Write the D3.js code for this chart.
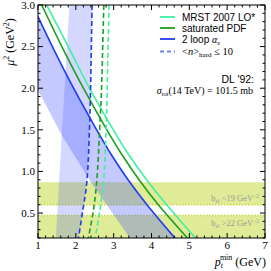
<!DOCTYPE html>
<html>
<head>
<meta charset="utf-8">
<script src="https://cdn.jsdelivr.net/npm/d3@7"></script>
<style>
  body { margin: 0; background: #fff; }
  svg { display: block; }
  .serif { font-family: "Liberation Serif", "Times New Roman", serif; }
  .sans { font-family: "Liberation Sans", Arial, sans-serif; }
</style>
</head>
<body>
<svg id="chart" width="271" height="271"></svg>
<script>
const svg = d3.select('#chart');

// curves: [pt_min (GeV), mu^2 (GeV^2)]
const mrstLO = [[1.23, 3.0], [1.80, 2.5], [2.36, 2.0], [2.99, 1.5], [3.40, 1.2], [3.87, 0.9], [4.40, 0.6], [5.16, 0.2]];
const saturatedPDF = [[1.1, 3.0], [1.63, 2.5], [2.20, 2.0], [2.82, 1.5], [3.22, 1.2], [3.67, 0.9], [4.18, 0.6], [4.95, 0.2]];
const twoLoop = [[1.0, 2.86], [1.38, 2.5], [1.94, 2.0], [2.55, 1.5], [2.94, 1.2], [3.38, 0.9], [3.88, 0.6], [4.62, 0.2]];

// <n>_hard <= 10 contours
const mrstHard = [[2.88, 3.0], [2.85, 2.5], [2.83, 2.0], [2.80, 1.5], [2.73, 0.87], [2.63, 0.52], [2.51, 0.2]];
const saturatedHard = [[2.74, 3.0], [2.71, 2.5], [2.68, 2.0], [2.63, 1.5], [2.55, 0.87], [2.46, 0.52], [2.33, 0.2]];
const twoLoopHard = [[2.43, 3.0], [2.41, 2.5], [2.39, 2.0], [2.36, 1.5], [2.29, 0.87], [2.18, 0.52], [2.07, 0.2]];

// shaded uncertainty bands
const vertBandLeft = [[1.83, 3.0], [1.47, 0.2]];
const diagBandLower = [[1.0, 1.98], [1.62, 1.44], [2.4, 0.87], [3.43, 0.2]];

// b_el bands in mu^2
const belBands = [
  { lo: 0.60, hi: 0.87, label: '<19' },
  { lo: 0.2, hi: 0.47, label: '>22' }
];

const xTicks = [1, 2, 3, 4, 5, 6, 7];
const yTicks = [0.5, 1.0, 1.5, 2.0, 2.5, 3.0];

const margin = { left: 38, right: 6, top: 5, bottom: 33 };
const W = 271, H = 271;
const x = d3.scaleLinear().domain([1, 7]).range([margin.left, W - margin.right]);
const y = d3.scaleLinear().domain([0.2, 3.0]).range([H - margin.bottom, margin.top]);

const line = d3.line().x(d => x(d[0])).y(d => y(d[1])).curve(d3.curveCatmullRom);
const poly = d3.line().x(d => x(d[0])).y(d => y(d[1]));

svg.append('defs').append('clipPath').attr('id', 'plot')
  .append('rect')
  .attr('x', x(1)).attr('y', y(3.0))
  .attr('width', x(7) - x(1)).attr('height', y(0.2) - y(3.0));

const g = svg.append('g').attr('clip-path', 'url(#plot)');

// yellow b_el bands
g.selectAll('rect.bel')
  .data(belBands)
  .join('rect')
  .attr('class', 'bel')
  .attr('x', x(1)).attr('width', x(7) - x(1))
  .attr('y', d => y(d.hi)).attr('height', d => y(d.lo) - y(d.hi))
  .attr('fill', '#e0eb98');

// dotted edges at the gap
g.selectAll('line.beledge')
  .data([0.60, 0.47])
  .join('line')
  .attr('x1', x(1)).attr('x2', x(7))
  .attr('y1', d => y(d)).attr('y2', d => y(d))
  .attr('stroke', '#c8d83c').attr('stroke-width', 1.5)
  .attr('stroke-dasharray', '1.5,1.5');

// vertical band: left edge to the 2 loop hard contour
const vertPoly = vertBandLeft.concat(twoLoopHard.slice().reverse());
g.append('path')
  .attr('d', poly(vertPoly) + 'Z')
  .attr('fill', '#3a4cff').attr('fill-opacity', 0.22);

// diagonal band: lower edge to the 2 loop curve
const diagPoly = diagBandLower.concat(twoLoop.slice().reverse());
g.append('path')
  .attr('d', poly(diagPoly) + 'Z')
  .attr('fill', '#3a4cff').attr('fill-opacity', 0.3);

// curves
const series = [
  { data: mrstLO, color: '#3ff0a0', dash: null },
  { data: saturatedPDF, color: '#1f9e1f', dash: null },
  { data: twoLoop, color: '#1f3cf0', dash: null },
  { data: mrstHard, color: '#3ff0a0', dash: '5,3' },
  { data: saturatedHard, color: '#1f9e1f', dash: '5,3' },
  { data: twoLoopHard, color: '#1f3cf0', dash: '5,3' }
];
g.selectAll('path.curve')
  .data(series)
  .join('path')
  .attr('class', 'curve')
  .attr('d', d => line(d.data))
  .attr('fill', 'none')
  .attr('stroke', d => d.color)
  .attr('stroke-width', 1.6)
  .attr('stroke-dasharray', d => d.dash);

// band labels
const belText = svg.append('g').attr('class', 'serif').attr('fill', '#9a9a9a').attr('font-size', 8.5);
belBands.forEach((b, i) => {
  const t = belText.append('text')
    .attr('x', 259).attr('y', i === 0 ? 201 : 226)
    .attr('text-anchor', 'end');
  t.append('tspan').text('b');
  t.append('tspan').attr('font-size', 5.5).attr('dy', 1.5).text('el');
  t.append('tspan').attr('dy', -1.5).text(' ' + b.label + ' GeV');
  t.append('tspan').attr('font-size', 5.5).attr('dy', -3.5).text('−2');
});

// frame and ticks
const frame = svg.append('g');
frame.append('rect')
  .attr('x', x(1)).attr('y', y(3.0))
  .attr('width', x(7) - x(1)).attr('height', y(0.2) - y(3.0))
  .attr('fill', 'none').attr('stroke', '#000').attr('stroke-width', 1);

const xMinor = d3.range(1, 7.001, 0.2);
const yMinor = d3.range(0.2, 3.001, 0.1);
const tickLen = v => (Math.abs(v - Math.round(v)) < 1e-6 ? 5 : 2.5);
const yTickLen = v => (Math.abs(v * 2 - Math.round(v * 2)) < 1e-6 ? 5 : 2.5);

xMinor.forEach(v => {
  const L = tickLen(v);
  frame.append('line').attr('x1', x(v)).attr('x2', x(v)).attr('y1', y(0.2)).attr('y2', y(0.2) - L).attr('stroke', '#000');
  frame.append('line').attr('x1', x(v)).attr('x2', x(v)).attr('y1', y(3.0)).attr('y2', y(3.0) + L).attr('stroke', '#000');
});
yMinor.forEach(v => {
  const L = yTickLen(v);
  frame.append('line').attr('x1', x(1)).attr('x2', x(1) + L).attr('y1', y(v)).attr('y2', y(v)).attr('stroke', '#000');
  frame.append('line').attr('x1', x(7)).attr('x2', x(7) - L).attr('y1', y(v)).attr('y2', y(v)).attr('stroke', '#000');
});

// tick labels
svg.append('g').attr('class', 'serif').attr('font-size', 11)
  .selectAll('text').data(xTicks).join('text')
  .attr('x', d => x(d)).attr('y', 249).attr('text-anchor', 'middle').text(d => d);
svg.append('g').attr('class', 'serif').attr('font-size', 11)
  .selectAll('text').data(yTicks).join('text')
  .attr('x', 35).attr('y', d => y(d)).attr('dy', '0.35em').attr('text-anchor', 'end')
  .text(d => d3.format('.1f')(d));

// axis titles
const yl = svg.append('text').attr('class', 'serif').attr('font-size', 12)
  .attr('transform', 'translate(14,42) rotate(-90)').attr('text-anchor', 'middle');
yl.append('tspan').attr('font-style', 'italic').text('μ');
yl.append('tspan').attr('font-size', 8).attr('dy', -5).text('2');
yl.append('tspan').attr('dy', 5).text(' (GeV');
yl.append('tspan').attr('font-size', 8).attr('dy', -5).text('2');
yl.append('tspan').attr('dy', 5).text(')');

const xl = svg.append('text').attr('class', 'serif').attr('font-size', 12)
  .attr('x', 266).attr('y', 266).attr('text-anchor', 'end');
xl.append('tspan').attr('font-style', 'italic').text('p');
xl.append('tspan').attr('font-size', 8).attr('dy', 2).attr('font-style', 'italic').text('t');
xl.append('tspan').attr('font-size', 8).attr('dy', -8).attr('dx', -3).text('min');
xl.append('tspan').attr('dy', 6).text(' (GeV)');

// legend
const legendItems = [
  { color: '#3ff0a0', dash: null, y: 17 },
  { color: '#1f9e1f', dash: null, y: 28 },
  { color: '#1f3cf0', dash: null, y: 39 },
  { color: '#6d82ff', dash: '4,3', y: 51.5 }
];
const leg = svg.append('g');
leg.selectAll('line').data(legendItems).join('line')
  .attr('x1', 160).attr('x2', 175)
  .attr('y1', d => d.y).attr('y2', d => d.y)
  .attr('stroke', d => d.color).attr('stroke-width', 1.8)
  .attr('stroke-dasharray', d => d.dash);

leg.append('text').attr('class', 'sans').attr('font-size', 10).attr('x', 182).attr('y', 21).text('MRST 2007 LO*');
leg.append('text').attr('class', 'sans').attr('font-size', 10).attr('x', 182).attr('y', 32).text('saturated PDF');
const l3 = leg.append('text').attr('class', 'sans').attr('font-size', 10).attr('x', 182).attr('y', 43);
l3.append('tspan').text('2 loop ');
l3.append('tspan').attr('class', 'serif').attr('font-style', 'italic').text('α');
l3.append('tspan').attr('class', 'serif').attr('font-style', 'italic').attr('font-size', 7).attr('dy', 2).text('s');
const l4 = leg.append('text').attr('class', 'serif').attr('font-size', 10.5).attr('x', 182).attr('y', 55);
l4.append('tspan').text('<');
l4.append('tspan').attr('font-style', 'italic').text('n');
l4.append('tspan').text('>');
l4.append('tspan').attr('font-size', 7).attr('dy', 2).text('hard');
l4.append('tspan').attr('dy', -2).text(' ≤ 10');

svg.append('text').attr('class', 'sans').attr('font-size', 10.5)
  .attr('x', 254).attr('y', 83).attr('text-anchor', 'end').text("DL '92:");
const sig = svg.append('text').attr('class', 'serif').attr('font-size', 10)
  .attr('x', 253).attr('y', 94).attr('text-anchor', 'end');
sig.append('tspan').attr('font-style', 'italic').text('σ');
sig.append('tspan').attr('font-size', 6.5).attr('dy', 2).text('tot');
sig.append('tspan').attr('dy', -2).text('(14 TeV) = 101.5 mb');
</script>
</body>
</html>
